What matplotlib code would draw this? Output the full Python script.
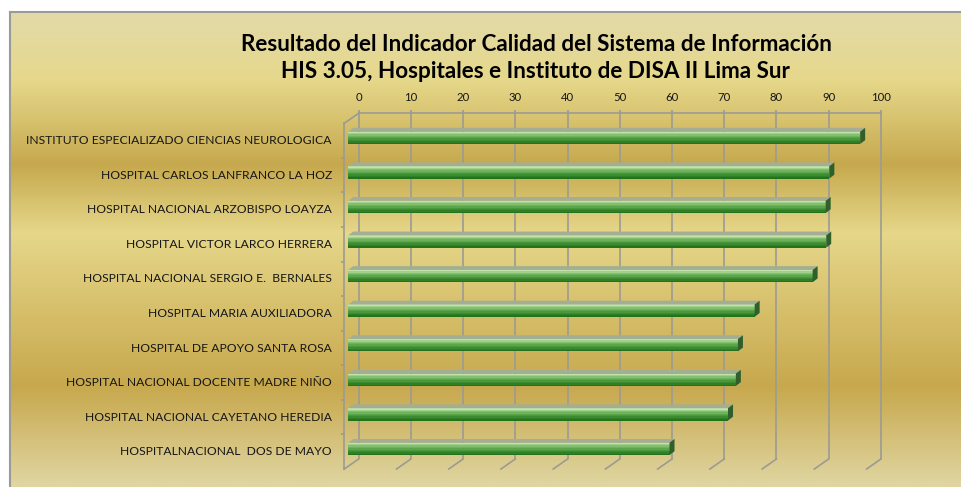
#!/usr/bin/env python3

import matplotlib
matplotlib.use("Agg")
import matplotlib.pyplot as plt
import matplotlib.transforms as mtransforms
from matplotlib.colors import LinearSegmentedColormap
from matplotlib.patches import Polygon
import numpy as np

HOSPITALS = [
    "INSTITUTO ESPECIALIZADO CIENCIAS NEUROLOGICA",
    "HOSPITAL CARLOS LANFRANCO LA HOZ",
    "HOSPITAL NACIONAL ARZOBISPO LOAYZA",
    "HOSPITAL VICTOR LARCO HERRERA",
    "HOSPITAL NACIONAL SERGIO E.  BERNALES",
    "HOSPITAL MARIA AUXILIADORA",
    "HOSPITAL DE APOYO SANTA ROSA",
    "HOSPITAL NACIONAL DOCENTE MADRE NIÑO",
    "HOSPITAL NACIONAL CAYETANO HEREDIA",
    "HOSPITALNACIONAL  DOS DE MAYO",
]
SCORES = [98.0, 92.1, 91.4, 91.5, 88.9, 77.8, 74.6, 74.2, 72.7, 61.5]
X_TICKS = list(range(0, 101, 10))
TITLE_LINES = [
    "Resultado del Indicador Calidad del Sistema de Información",
    "HIS 3.05, Hospitales e Instituto de DISA II Lima Sur",
]

FONT = "Lato"
GRID = "#9b9b93"
TEXT = "#161616"
BG_STOPS = [
    (0.00, "#e3daa9"),
    (0.14, "#e6d88b"),
    (0.32, "#c6a94e"),
    (0.465, "#e6d78a"),
    (0.79, "#c7a84d"),
    (1.00, "#e0d6a2"),
]
FACE_COLORS = ["#c3e2ab", "#9fd08c", "#82c06e", "#6db35b", "#5ba54a",
               "#4b983c", "#3c8b30", "#2e7f25", "#22731b"]

W, H = 961, 487


def fig_box(x0, y0, x1, y1):
    # pixel box (top-down) -> figure fraction
    return [x0 / W, 1 - y1 / H, (x1 - x0) / W, (y1 - y0) / H]


fig = plt.figure(figsize=(W / 100, H / 100), dpi=100, facecolor="white")

# gradient background of the chart area
bg = fig.add_axes(fig_box(10, 12, W, H))
cmap = LinearSegmentedColormap.from_list("bg", BG_STOPS)
bg.imshow(np.linspace(0, 1, 500)[:, None], cmap=cmap, aspect="auto",
          extent=[0, 1, 0, 1], origin="upper")
bg.set_xticks([])
bg.set_yticks([])
for side in ["right", "bottom"]:
    bg.spines[side].set_visible(False)
for side in ["top", "left"]:
    bg.spines[side].set_color("#9a9a96")
    bg.spines[side].set_linewidth(1.5)

# front plane of the pseudo 3d plot
ax = fig.add_axes(fig_box(344.3, 123.3, 866.6, 469.0))
ax.patch.set_alpha(0)
ax.axis("off")

px_x = 522.3 / 100
px_y = 345.7 / 10
depth_x, depth_y = 14.3, 10.0
n = len(HOSPITALS)
rows = np.arange(n)

back = mtransforms.offset_copy(ax.transData, fig=fig, x=depth_x, y=depth_y, units="dots")
bar_tr = mtransforms.offset_copy(ax.transData, fig=fig, x=4.0, y=2.8, units="dots")

# back wall grid
ax.vlines(X_TICKS, -0.5 - 3 / px_y, n - 0.5, colors=GRID, lw=1.2, transform=back,
          clip_on=False, zorder=1)
ax.plot([0, 100], [-0.5, -0.5], color=GRID, lw=1.2, transform=back, clip_on=False, zorder=1)

# floor diagonals
dx, dy = depth_x / px_x, depth_y / px_y
for v in X_TICKS:
    ax.plot([v, v + dx], [n - 0.5, n - 0.5 - dy], color=GRID, lw=1.2, clip_on=False, zorder=1)

# left wall
ax.plot([0, 0], [-0.5, n - 0.5], color=GRID, lw=1.2, clip_on=False, zorder=1)
ax.plot([0, dx], [-0.5, -0.5 - dy], color=GRID, lw=1.2, clip_on=False, zorder=1)
ax.hlines(np.arange(0.5, n - 0.5, 1), -3 / px_x, 0, colors=GRID, lw=1.2,
          clip_on=False, zorder=1)

# bars: striped front face + top and side faces
bar_h = 12.3 / px_y
k = len(FACE_COLORS)
for j, c in enumerate(FACE_COLORS):
    ax.barh(rows - bar_h / 2 + (j + 0.5) * bar_h / k, SCORES, height=bar_h / k * 1.08,
            left=0, color=c, lw=0, transform=bar_tr, zorder=3, clip_on=False)

bdx, bdy = 5.0 / px_x, 3.8 / px_y
for i, v in zip(rows, SCORES):
    yt, yb = i - bar_h / 2, i + bar_h / 2
    ax.add_patch(Polygon([(0, yt), (v, yt), (v + bdx, yt - bdy), (bdx, yt - bdy)],
                         closed=True, fc="#a3ae92", ec="none", transform=bar_tr,
                         zorder=3, clip_on=False))
    ax.add_patch(Polygon([(v, yt), (v + bdx, yt - bdy), (v + bdx, yb - bdy), (v, yb)],
                         closed=True, fc="#2f5f2b", ec="none", transform=bar_tr,
                         zorder=3, clip_on=False))

# labels
lab_tr = mtransforms.offset_copy(ax.transData, fig=fig, x=-12.5, y=0, units="dots")
for i, name in zip(rows, HOSPITALS):
    ax.text(0, i, name, transform=lab_tr, ha="right", va="center", fontsize=8.7,
            family=FONT, color=TEXT)

tick_tr = mtransforms.offset_copy(back, fig=fig, x=0, y=16, units="dots")
for v in X_TICKS:
    ax.text(v, -0.5, str(v), transform=tick_tr, ha="center", va="center", fontsize=8.2,
            family=FONT, color=TEXT)

ax.set_xlim(0, 100)
ax.set_ylim(n - 0.5, -0.5)

fig.text(536 / W, 1 - 44.5 / H, TITLE_LINES[0], ha="center", va="center", fontsize=16.2,
         fontweight="bold", family=FONT, color="black")
fig.text(535 / W, 1 - 71.5 / H, TITLE_LINES[1], ha="center", va="center", fontsize=16.2,
         fontweight="bold", family=FONT, color="black")

fig.savefig("out.png", dpi=100, facecolor="white")
